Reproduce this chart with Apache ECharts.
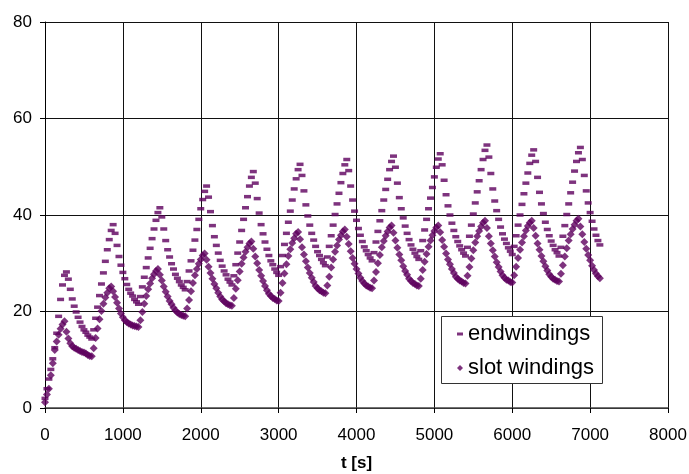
<!DOCTYPE html>
<html>
<head>
<meta charset="utf-8">
<script src="https://cdn.jsdelivr.net/npm/echarts@6/dist/echarts.min.js"></script>
<style>
html,body{margin:0;padding:0;background:#fff;}
#c{width:689px;height:474px;}
</style>
</head>
<body>
<div id="c"></div>
<script>
// sampling interval of the recorded data (s)
const sampleStep = 25;

const endwindings = [
 2, 4, 6, 8, 10.2, 12.5, 15.5, 19, 22.5, 25.5, 27.5, 28.2,
 26.7, 24.6, 22.6, 21.1, 19.9, 18.8, 17.8, 16.9, 16.2, 15.7, 15.1, 14.7, 14.3,
 16.2, 18.6, 20.9, 23.3, 25.7, 28.0, 30.4, 32.8, 34.9, 36.8, 38.0,
 36.2, 33.7, 31.4, 29.6, 28.1, 26.8, 25.6, 24.6, 23.8, 23.2, 22.5, 22.0, 21.5,
 23.1, 25.1, 27.1, 29.1, 31.1, 33.1, 35.1, 37.1, 38.9, 40.5, 41.5,
 39.6, 37.1, 34.7, 32.8, 31.3, 29.9, 28.8, 27.7, 26.9, 26.2, 25.5, 25.0, 24.5,
 26.2, 28.4, 30.5, 32.7, 34.8, 37.0, 39.1, 41.3, 43.2, 44.9, 46.0,
 43.7, 40.7, 37.8, 35.5, 33.7, 32.1, 30.6, 29.4, 28.4, 27.6, 26.7, 26.1, 25.5,
 27.4, 29.7, 32.1, 34.4, 36.8, 39.1, 41.5, 43.8, 46.0, 47.8, 49.0,
 46.6, 43.4, 40.4, 38.0, 36.1, 34.4, 32.9, 31.6, 30.5, 29.7, 28.8, 28.1, 27.5,
 29.3, 31.6, 33.9, 36.2, 38.5, 40.8, 43.1, 45.4, 47.5, 49.4, 50.5,
 48.2, 45.0, 42.1, 39.8, 37.9, 36.2, 34.8, 33.5, 32.4, 31.6, 30.8, 30.1, 29.5,
 31.3, 33.5, 35.7, 37.9, 40.1, 42.3, 44.5, 46.7, 48.6, 50.4, 51.5,
 49.2, 46.0, 43.1, 40.8, 38.9, 37.2, 35.8, 34.5, 33.4, 32.6, 31.8, 31.1, 30.5,
 32.2, 34.4, 36.6, 38.8, 40.9, 43.1, 45.3, 47.4, 49.4, 51.1, 52.2,
 49.9, 46.6, 43.6, 41.3, 39.4, 37.7, 36.2, 34.9, 33.8, 32.9, 32.1, 31.4, 30.8,
 32.6, 34.7, 36.9, 39.1, 41.3, 43.5, 45.7, 47.9, 49.9, 51.6, 52.7,
 50.4, 47.2, 44.2, 41.9, 40.0, 38.3, 36.8, 35.5, 34.5, 33.6, 32.8, 32.1, 31.5,
 33.3, 35.6, 37.9, 40.2, 42.5, 44.8, 47.1, 49.4, 51.5, 53.4, 54.5,
 52.0, 48.6, 45.4, 42.9, 40.9, 39.1, 37.5, 36.1, 35.0, 34.1, 33.2, 32.5, 31.8,
 33.5, 35.7, 37.9, 40.0, 42.2, 44.4, 46.6, 48.7, 50.7, 52.4, 53.5,
 51.1, 47.8, 44.7, 42.3, 40.3, 38.5, 37.0, 35.7, 34.6, 33.7, 32.8, 32.2, 31.5,
 33.3, 35.6, 37.8, 40.1, 42.3, 44.6, 46.8, 49.1, 51.1, 52.9, 54.0,
 51.5, 48.2, 45.0, 42.5, 40.5, 38.7, 37.1, 35.8, 34.7, 33.8
];

const slotWindings = [
 1.2, 2.8, 4.0, 6.8, 9.3, 12.0, 13.8, 15.2, 16.4, 17.3, 18.0,
 15.8, 14.4, 13.4, 12.8, 12.5, 12.3, 12.0, 11.8, 11.6, 11.5, 11.3, 11.0, 10.8, 10.7,
 12.4, 14.5, 16.5, 18.4, 20.1, 21.6, 22.9, 23.9, 24.8, 25.2,
 24.2, 23.0, 21.8, 20.6, 19.6, 18.8, 18.2, 17.8, 17.5, 17.3, 17.1, 17.0, 16.9, 16.8,
 18.2, 19.9, 21.6, 23.2, 24.6, 25.8, 26.9, 27.7, 28.4, 28.8,
 27.6, 26.4, 25.2, 24.1, 23.1, 22.2, 21.5, 20.8, 20.2, 19.8, 19.5, 19.3, 19.1, 19.0,
 20.6, 22.4, 24.2, 25.9, 27.5, 28.8, 29.9, 30.8, 31.6, 32.0,
 30.7, 29.3, 28.0, 26.8, 25.7, 24.8, 23.9, 23.1, 22.5, 22.1, 21.7, 21.5, 21.3, 21.2,
 22.8, 24.7, 26.5, 28.3, 29.9, 31.2, 32.4, 33.3, 34.1, 34.5,
 33.0, 31.4, 30.0, 28.6, 27.4, 26.3, 25.3, 24.4, 23.7, 23.2, 22.8, 22.6, 22.3, 22.2,
 23.9, 25.9, 27.9, 29.8, 31.5, 32.9, 34.2, 35.2, 36.1, 36.5,
 35.0, 33.3, 31.8, 30.4, 29.1, 28.0, 27.0, 26.1, 25.3, 24.8, 24.4, 24.2, 23.9, 23.8,
 25.4, 27.2, 29.1, 30.8, 32.4, 33.7, 34.9, 35.8, 36.6, 37.0,
 35.5, 34.0, 32.5, 31.1, 29.9, 28.8, 27.9, 27.0, 26.3, 25.8, 25.4, 25.2, 24.9, 24.8,
 26.4, 28.2, 30.0, 31.7, 33.3, 34.6, 35.7, 36.6, 37.4, 37.8,
 36.3, 34.7, 33.2, 31.8, 30.6, 29.4, 28.4, 27.6, 26.8, 26.3, 25.9, 25.7, 25.4, 25.3,
 26.8, 28.6, 30.3, 31.9, 33.4, 34.7, 35.8, 36.7, 37.4, 37.8,
 36.4, 34.8, 33.4, 32.0, 30.8, 29.8, 28.8, 28.0, 27.2, 26.8, 26.4, 26.2, 25.9, 25.8,
 27.4, 29.2, 31.0, 32.7, 34.3, 35.6, 36.7, 37.6, 38.4, 38.8,
 37.3, 35.6, 34.1, 32.7, 31.4, 30.2, 29.2, 28.3, 27.5, 27.0, 26.6, 26.4, 26.1, 26.0,
 27.5, 29.3, 31.1, 32.8, 34.3, 35.6, 36.8, 37.7, 38.4, 38.8,
 37.3, 35.7, 34.1, 32.8, 31.5, 30.4, 29.4, 28.5, 27.7, 27.2, 26.8, 26.6, 26.3, 26.2,
 27.8, 29.6, 31.4, 33.1, 34.7, 36.0, 37.1, 38.0, 38.8, 39.2,
 37.6, 36.0, 34.4, 33.0, 31.7, 30.6, 29.5, 28.6, 27.9, 27.3, 26.9
];

const seriesNames = ['endwindings', 'slot windings'];
const xAxisName = 't [s]';

const FONT = "'Liberation Sans', Arial, sans-serif";
const MARK = '#5e005e';

const toPairs = arr => arr.map((v, i) => [i * sampleStep, v]);

const chart = echarts.init(document.getElementById('c'), null, {renderer: 'canvas'});
chart.setOption({
  animation: false,
  backgroundColor: '#fff',
  grid: {left: 45, right: 21, top: 22, bottom: 66, containLabel: false, outerBoundsMode: 'none'},
  xAxis: {
    type: 'value', min: 0, max: 8000, interval: 1000,
    name: xAxisName, nameLocation: 'middle', nameGap: 47,
    nameTextStyle: {fontFamily: FONT, fontSize: 17, fontWeight: 'bold', color: '#000'},
    axisLine: {show: true, onZero: false, lineStyle: {color: '#444', width: 1.5}},
    axisTick: {show: true, length: 5, lineStyle: {color: '#000'}},
    axisLabel: {fontFamily: FONT, fontSize: 17, color: '#000', margin: 19,
      formatter: v => String(v)},
    splitLine: {show: true, lineStyle: {color: '#111', width: 1}}
  },
  yAxis: {
    type: 'value', min: 0, max: 80, interval: 20,
    axisLine: {show: true, onZero: false, lineStyle: {color: '#000', width: 1}},
    axisTick: {show: true, length: 5, lineStyle: {color: '#000'}},
    axisLabel: {fontFamily: FONT, fontSize: 17, color: '#000', margin: 13,
      formatter: v => String(v)},
    splitLine: {show: true, lineStyle: {color: '#111', width: 1}}
  },
  graphic: [{
    type: 'rect', left: 441, top: 316, z: 10,
    shape: {width: 161, height: 67},
    style: {fill: '#fff', stroke: '#333', lineWidth: 1}
  }],
  legend: [{
    data: [{name: seriesNames[0], icon: 'rect'}],
    left: 457, top: 323, padding: 0, z: 20,
    itemWidth: 6, itemHeight: 3, itemGap: 0,
    textStyle: {fontFamily: FONT, fontSize: 22, color: '#000'}
  }, {
    data: [{name: seriesNames[1], icon: 'diamond'}],
    left: 457, top: 357, padding: 0, z: 20,
    itemWidth: 6, itemHeight: 6, itemGap: 0,
    textStyle: {fontFamily: FONT, fontSize: 22, color: '#000'}
  }],
  series: [{
    name: seriesNames[0], type: 'scatter',
    data: toPairs(endwindings),
    symbol: 'rect', symbolSize: [7, 3.5],
    itemStyle: {color: MARK}, z: 3
  }, {
    name: seriesNames[1], type: 'scatter',
    data: toPairs(slotWindings),
    symbol: 'diamond', symbolSize: [8, 8],
    itemStyle: {color: MARK}, z: 4
  }]
});
</script>
</body>
</html>
